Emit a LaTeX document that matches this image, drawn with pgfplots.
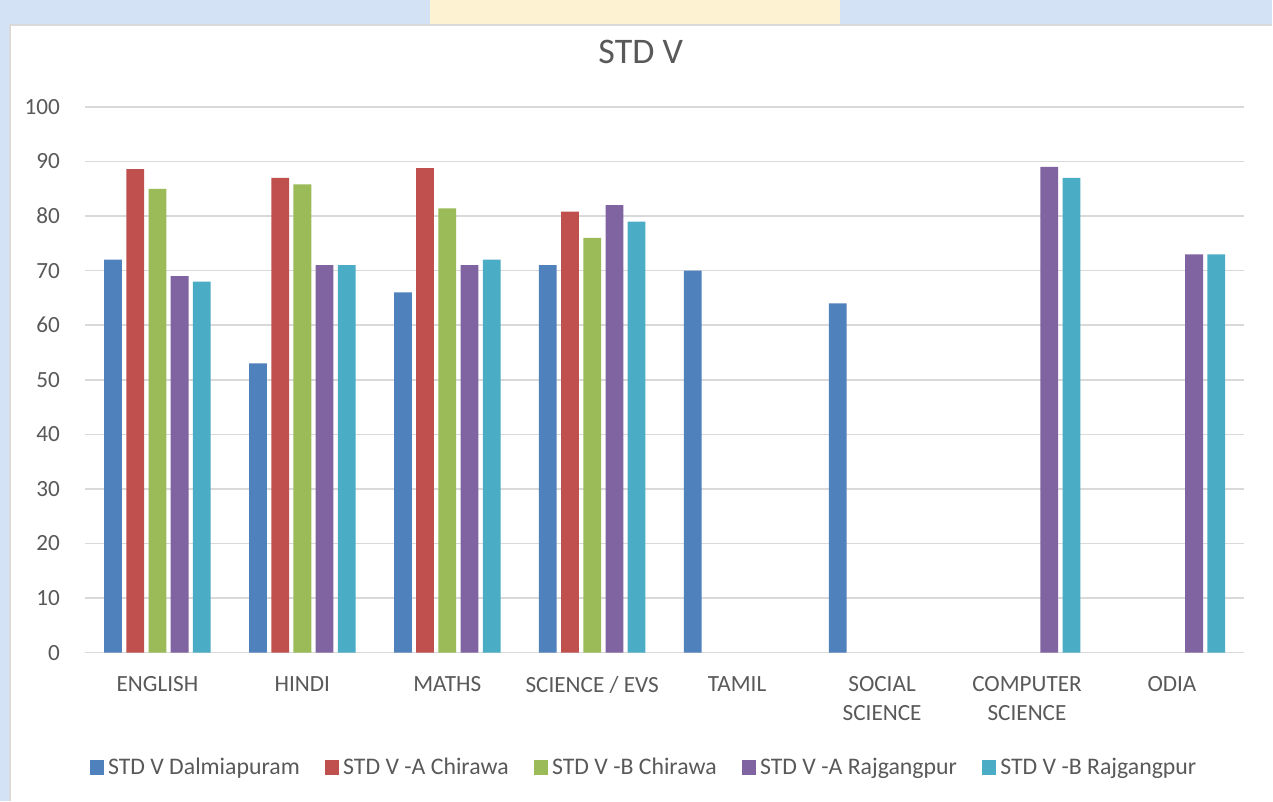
\documentclass[border=0pt]{standalone}
\usepackage{pgfplots}
\pgfplotsset{compat=1.18}
\usepackage{fontspec}
\setmainfont{Carlito}
\definecolor{s1}{HTML}{4F81BD}
\definecolor{s2}{HTML}{C0504D}
\definecolor{s3}{HTML}{9BBB59}
\definecolor{s4}{HTML}{8064A2}
\definecolor{s5}{HTML}{4BACC6}
\definecolor{txt}{HTML}{595959}
\definecolor{gridc}{HTML}{D9D9D9}
\definecolor{bgblue}{HTML}{D3E2F4}
\definecolor{bgyel}{HTML}{FDF3D2}
\begin{document}
\begin{tikzpicture}[x=1pt,y=1pt]
\fill[bgblue] (0,0) rectangle (636.5,400.5);
\fill[bgyel] (215,388) rectangle (420,400.5);
\fill[white] (5,0) rectangle (636.5,388);
\draw[gridc,line width=0.6pt] (5,0) -- (5,388) -- (636.5,388);
\begin{axis}[
  at={(42.5pt,74pt)}, anchor=south west,
  scale only axis, width=580pt, height=273pt,
  xmin=-0.5, xmax=7.5, ymin=0, ymax=100,
  ytick={0,10,...,100},
  xtick={0,...,7},
  xticklabels={ENGLISH, HINDI, MATHS, SCIENCE / EVS, TAMIL, SOCIAL\\SCIENCE, COMPUTER\\SCIENCE, ODIA},
  ybar=2.2pt, bar width=8.9pt,
  axis x line*=bottom, axis y line*=left,
  y axis line style={draw=none},
  x axis line style={gridc, line width=0.8pt},
  major tick length=0pt, tick style={draw=none},
  ymajorgrids, grid style={gridc, line width=0.75pt},
  /pgf/number format/assume math mode=true,
  tick label style={font=\fontsize{11.6}{14.5}\selectfont, text=txt},
  xticklabel style={align=center, anchor=north, yshift=-8.5pt},
  yticklabel style={anchor=east, xshift=-9pt},
  legend columns=5,
  legend style={at={(0.483,-0.2106)}, anchor=center, draw=none, fill=none,
    font=\fontsize{11.9}{14}\selectfont, text=txt,
    /tikz/every even column/.append style={column sep=10.5pt}},
  legend image code/.code={\fill[#1] (0pt,-3.6pt) rectangle (7.2pt,3.6pt);},
]
\addplot[fill=s1, draw=none] coordinates {(0,72) (1,53) (2,66) (3,71) (4,70) (5,64)};
\addplot[fill=s2, draw=none] coordinates {(0,88.6) (1,87) (2,88.8) (3,80.8)};
\addplot[fill=s3, draw=none] coordinates {(0,85) (1,85.8) (2,81.4) (3,76)};
\addplot[fill=s4, draw=none] coordinates {(0,69) (1,71) (2,71) (3,82) (6,89) (7,73)};
\addplot[fill=s5, draw=none] coordinates {(0,68) (1,71) (2,72) (3,79) (6,87) (7,73)};
\legend{STD V Dalmiapuram, STD V -A Chirawa, STD V -B Chirawa, STD V -A Rajgangpur, STD V -B Rajgangpur}
\end{axis}
\node[text=txt, font=\fontsize{18}{20}\selectfont] at (320.5,374.5) {STD V};
\end{tikzpicture}
\end{document}
